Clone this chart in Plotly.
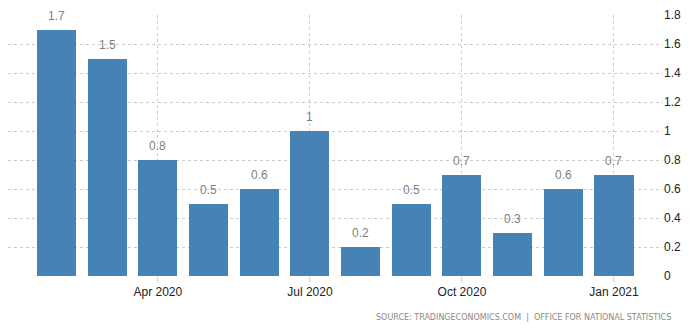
import plotly.graph_objects as go

# Monthly change, Feb 2020 - Jan 2021
months = ["Feb 2020", "Mar 2020", "Apr 2020", "May 2020", "Jun 2020", "Jul 2020",
          "Aug 2020", "Sep 2020", "Oct 2020", "Nov 2020", "Dec 2020", "Jan 2021"]
values = [1.7, 1.5, 0.8, 0.5, 0.6, 1.0, 0.2, 0.5, 0.7, 0.3, 0.6, 0.7]
tick_labels = ["Apr 2020", "Jul 2020", "Oct 2020", "Jan 2021"]
tick_months = ["Apr 2020", "Jul 2020", "Oct 2020", "Jan 2021"]
y_ticks = [0, 0.2, 0.4, 0.6, 0.8, 1, 1.2, 1.4, 1.6, 1.8]

x_pos = list(range(len(months)))
tick_pos = [months.index(m) for m in tick_months]

def fmt(v):
    return f"{v:g}"

fig = go.Figure()
fig.add_trace(go.Bar(
    x=x_pos,
    y=values,
    width=0.77,
    marker=dict(color="#4682B4", line=dict(width=0)),
    hoverinfo="skip",
))

# value labels above each bar
value_labels = [dict(
    x=xp, y=v, xref="x", yref="y",
    text=fmt(v), showarrow=False,
    xanchor="center", yanchor="bottom", yshift=5,
    font=dict(family="Liberation Sans, Arial, sans-serif", size=12, color="#808080"),
) for xp, v in zip(x_pos, values)]

source_note = dict(
    text="SOURCE: TRADINGECONOMICS.COM  |  OFFICE FOR NATIONAL STATISTICS",
    xref="paper", yref="paper",
    x=1.0, y=0, xanchor="right", yanchor="top",
    yshift=-35, xshift=10,
    showarrow=False,
    font=dict(family="DejaVu Sans, Verdana, sans-serif", size=8, color="#888888"),
)

grid = dict(showgrid=True, gridcolor="#cccccc", griddash="dot", gridwidth=1)

fig.update_layout(
    width=690,
    height=328,
    margin=dict(l=8, r=27, t=12, b=52),
    paper_bgcolor="white",
    plot_bgcolor="white",
    showlegend=False,
    bargap=0,
    xaxis=dict(
        range=[-0.957, 11.967],
        tickmode="array",
        tickvals=tick_pos,
        ticktext=tick_labels,
        ticks="outside",
        ticklen=5,
        tickcolor="#cccccc",
        tickfont=dict(family="Liberation Sans, Arial, sans-serif", size=12, color="#222222"),
        showline=False,
        zeroline=False,
        **grid,
    ),
    yaxis=dict(
        range=[0, 1.8],
        side="right",
        tickmode="array",
        tickvals=y_ticks,
        ticktext=[fmt(v) for v in y_ticks],
        ticks="",
        tickfont=dict(family="Liberation Sans, Arial, sans-serif", size=12, color="#222222"),
        showline=False,
        zeroline=False,
        **grid,
    ),
    annotations=value_labels + [source_note],
)

fig.write_html("out.html")
